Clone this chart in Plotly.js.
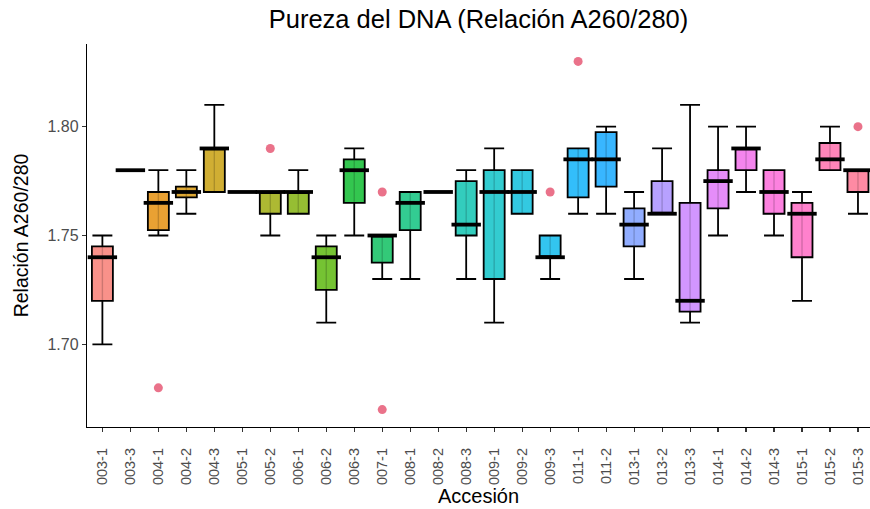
<!DOCTYPE html>
<html>
<head>
<meta charset="utf-8">
<script src="https://cdn.plot.ly/plotly-3.0.1.min.js"></script>
<style>html,body{margin:0;padding:0;background:#fff;overflow:hidden;}</style>
</head>
<body>
<div id="chart" style="width:870px;height:509px;"></div>
<script>
// ---- Data ----
const categories = ["003-1","003-3","004-1","004-2","004-3","005-1","005-2","006-1","006-2","006-3",
  "007-1","008-1","008-2","008-3","009-1","009-2","009-3","011-1","011-2","013-1","013-2","013-3",
  "014-1","014-2","014-3","015-1","015-2","015-3"];
const lowerWhisker = [1.70,1.78,1.75,1.76,1.77,1.77,1.75,1.76,1.71,1.75,
  1.73,1.73,1.77,1.73,1.71,1.76,1.73,1.76,1.76,1.73,1.76,1.71,
  1.75,1.77,1.75,1.72,1.78,1.76];
const q1Values = [1.72,1.78,1.7525,1.7675,1.77,1.77,1.76,1.76,1.725,1.765,
  1.7375,1.7525,1.77,1.75,1.73,1.76,1.74,1.7675,1.7725,1.745,1.76,1.715,
  1.7625,1.78,1.76,1.74,1.78,1.77];
const medianValues = [1.74,1.78,1.765,1.77,1.79,1.77,1.77,1.77,1.74,1.78,
  1.75,1.765,1.77,1.755,1.77,1.77,1.74,1.785,1.785,1.755,1.76,1.72,
  1.775,1.79,1.77,1.76,1.785,1.78];
const q3Values = [1.745,1.78,1.77,1.7725,1.79,1.77,1.77,1.77,1.745,1.785,
  1.75,1.77,1.77,1.775,1.78,1.78,1.75,1.79,1.7975,1.7625,1.775,1.765,
  1.78,1.79,1.78,1.765,1.7925,1.78];
const upperWhisker = [1.75,1.78,1.78,1.78,1.81,1.77,1.77,1.78,1.75,1.79,
  1.75,1.77,1.77,1.78,1.79,1.78,1.75,1.79,1.80,1.77,1.79,1.81,
  1.80,1.80,1.78,1.77,1.80,1.78];
const outlierCategories = ["004-1","005-2","007-1","007-1","009-3","011-1","015-3"];
const outlierValues = [1.68,1.79,1.77,1.67,1.77,1.83,1.80];
const yTickValues = [1.70,1.75,1.80];
const yTickLabels = ["1.70","1.75","1.80"];

// ---- ggplot-like hue palette (HCL, c=100, l=65) ----
function hcl2rgb(h, c, l) {
  const hr = h * Math.PI / 180;
  const U = c * Math.cos(hr), V = c * Math.sin(hr);
  const Xn = 95.047, Yn = 100.0, Zn = 108.883;
  const Y = Yn * (l > 8 ? Math.pow((l + 16) / 116, 3) : l / 903.3);
  const uN = 4 * Xn / (Xn + 15 * Yn + 3 * Zn);
  const vN = 9 * Yn / (Xn + 15 * Yn + 3 * Zn);
  const u = U / (13 * l) + uN, v = V / (13 * l) + vN;
  const X = 9.0 * Y * u / (4 * v);
  const Z = -X / 3 - 5 * Y + 3 * Y / v;
  const x = X / 100, y = Y / 100, z = Z / 100;
  const r = 3.240479 * x - 1.537150 * y - 0.498535 * z;
  const g = -0.969256 * x + 1.875992 * y + 0.041556 * z;
  const b = 0.055648 * x - 0.204043 * y + 1.057311 * z;
  const gam = t => { t = t > 0.00304 ? 1.055 * Math.pow(t, 1 / 2.4) - 0.055 : 12.92 * t; return Math.round(255 * Math.min(1, Math.max(0, t))); };
  return [gam(r), gam(g), gam(b)];
}
const n = categories.length;
const colors = [];
for (let i = 0; i < n; i++) colors.push(hcl2rgb(15 + 360 * i / n, 100, 65));

// ---- Traces ----
const traces = [];
categories.forEach((cat, i) => {
  const [r, g, b] = colors[i];
  traces.push({
    type: 'box',
    x: [cat],
    q1: [q1Values[i]], median: [medianValues[i]], q3: [q3Values[i]],
    lowerfence: [lowerWhisker[i]], upperfence: [upperWhisker[i]],
    fillcolor: `rgba(${r},${g},${b},0.8)`,
    line: { color: '#000', width: 1.8 },
    whiskerwidth: 0.95,
    width: 0.75,
    boxpoints: false,
    hoverinfo: 'skip',
    showlegend: false
  });
});
// faint whisker stripe showing through boxes
traces.push({
  type: 'scatter', mode: 'markers',
  x: categories, y: q1Values,
  marker: { size: 1, opacity: 0 },
  error_y: { type: 'data', symmetric: false,
    array: q3Values.map((v, i) => v - q1Values[i]), arrayminus: q1Values.map(() => 0),
    width: 0, thickness: 1.4, color: 'rgba(0,0,0,0.18)' },
  hoverinfo: 'skip', showlegend: false
});
// thick median lines
traces.push({
  type: 'scatter', mode: 'markers',
  x: categories, y: medianValues,
  marker: { symbol: 'line-ew', size: 21, color: '#000', line: { color: '#000', width: 3.8 } },
  hoverinfo: 'skip', showlegend: false
});
// outliers
traces.push({
  type: 'scatter', mode: 'markers',
  x: outlierCategories, y: outlierValues,
  marker: { size: 9, color: 'rgba(220,20,60,0.6)' },
  hoverinfo: 'skip', showlegend: false
});

const font = "'Liberation Sans', Arial, Helvetica, sans-serif";
const layout = {
  width: 870, height: 509,
  margin: { l: 87, r: 0, t: 44, b: 82 },
  paper_bgcolor: '#fff', plot_bgcolor: '#fff',
  font: { family: font, color: '#000' },
  title: { text: 'Pureza del DNA (Relación A260/280)', xref: 'paper', x: 0.5, xanchor: 'center',
    yref: 'container', y: 0.98, yanchor: 'top',
    font: { size: 25.5, family: font, color: '#000' } },
  xaxis: {
    type: 'category', categoryorder: 'array', categoryarray: categories,
    range: [-0.55, 27.43],
    showline: true, linecolor: '#000', linewidth: 1.2,
    showgrid: false, zeroline: false,
    ticks: 'outside', ticklen: 4, tickcolor: '#333', tickwidth: 1.1,
    ticklabelstandoff: 10,
    tickangle: -90, tickfont: { size: 14.5, color: '#4d4d4d', family: font },
    title: { text: 'Accesión', font: { size: 20, family: font, color: '#000' }, standoff: 4 },
    fixedrange: true
  },
  yaxis: {
    range: [1.662, 1.838],
    tickvals: yTickValues, ticktext: yTickLabels,
    showline: true, linecolor: '#000', linewidth: 1.2,
    showgrid: false, zeroline: false,
    ticks: 'outside', ticklen: 4, tickcolor: '#333', tickwidth: 1.1,
    tickfont: { size: 16, color: '#4d4d4d', family: font },
    title: { text: 'Relación A260/280', font: { size: 19.5, family: font, color: '#000' }, standoff: 13 },
    fixedrange: true
  },
  boxmode: 'overlay'
};
Plotly.newPlot('chart', traces, layout, { staticPlot: true, displayModeBar: false });
</script>
</body>
</html>
